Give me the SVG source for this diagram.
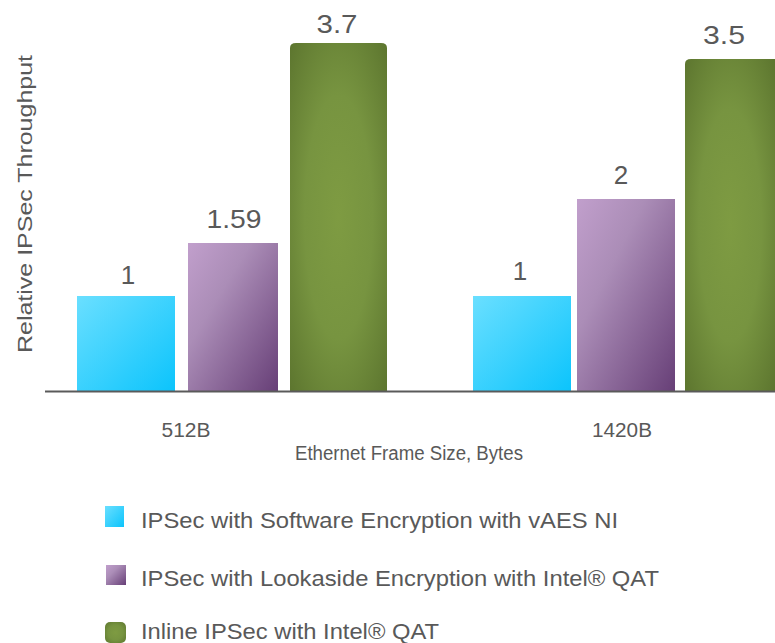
<svg xmlns="http://www.w3.org/2000/svg" width="775" height="643" viewBox="0 0 775 643">
  <defs>
    <linearGradient id="gCyan" x1="0" y1="0" x2="1" y2="1">
      <stop offset="0" stop-color="#6adfff"/>
      <stop offset="1" stop-color="#0cc4fc"/>
    </linearGradient>
    <linearGradient id="gPurple" x1="0" y1="0" x2="1" y2="1">
      <stop offset="0" stop-color="#c19fcc"/>
      <stop offset="0.35" stop-color="#ab8db7"/>
      <stop offset="1" stop-color="#673f77"/>
    </linearGradient>
    <radialGradient id="gGreen" cx="0.5" cy="0.5" r="0.7">
      <stop offset="0" stop-color="#7e9b42"/>
      <stop offset="0.5" stop-color="#779440"/>
      <stop offset="1" stop-color="#5d762f"/>
    </radialGradient>
    <style>
      text { font-family: "Liberation Sans", Arial, sans-serif; fill: #595959; }
      .val { font-size: 26px; text-anchor: middle; }
      .cat { font-size: 20px; text-anchor: middle; }
      .leg { font-size: 22px; }
    </style>
  </defs>

  <!-- bars with value labels -->
  <g id="bars">
    <g id="bar-512-sw">
      <rect x="77" y="296" width="98" height="95" fill="url(#gCyan)"/>
      <text class="val" x="128" y="284">1</text>
    </g>
    <g id="bar-512-la">
      <rect x="188" y="243" width="90" height="148" fill="url(#gPurple)"/>
      <text class="val" x="234" y="228" textLength="55" lengthAdjust="spacingAndGlyphs">1.59</text>
    </g>
    <g id="bar-512-inline">
      <path d="M290,391 V48 Q290,43 296,43 H381 Q387,43 387,48 V391 Z" fill="url(#gGreen)"/>
      <text class="val" x="337" y="33" textLength="41" lengthAdjust="spacingAndGlyphs">3.7</text>
    </g>
    <g id="bar-1420-sw">
      <rect x="473" y="296" width="98" height="95" fill="url(#gCyan)"/>
      <text class="val" x="520" y="280">1</text>
    </g>
    <g id="bar-1420-la">
      <rect x="577" y="199" width="98" height="192" fill="url(#gPurple)"/>
      <text class="val" x="621" y="184">2</text>
    </g>
    <g id="bar-1420-inline">
      <path d="M685,391 V64 Q685,59 691,59 H775 V391 Z" fill="url(#gGreen)"/>
      <text class="val" x="724" y="44" textLength="42" lengthAdjust="spacingAndGlyphs">3.5</text>
    </g>
  </g>

  <!-- axes and titles -->
  <g id="axes">
    <line x1="45" y1="391.5" x2="775" y2="391.5" stroke="#5a5a5a" stroke-width="2"/>
    <text class="cat" x="186" y="437" textLength="49" lengthAdjust="spacingAndGlyphs">512B</text>
    <text class="cat" x="622" y="437" textLength="60" lengthAdjust="spacingAndGlyphs">1420B</text>
    <text class="cat" x="409" y="460" font-size="16" textLength="228" lengthAdjust="spacingAndGlyphs">Ethernet Frame Size, Bytes</text>
    <text x="0" y="0" font-size="21" text-anchor="middle" transform="translate(32,204) rotate(-90)" textLength="298" lengthAdjust="spacingAndGlyphs">Relative IPSec Throughput</text>
  </g>

  <!-- legend -->
  <g id="legend">
    <g id="legend-sw">
      <rect x="105" y="506" width="19" height="21" fill="url(#gCyan)"/>
      <text class="leg" x="141" y="528" textLength="477" lengthAdjust="spacingAndGlyphs">IPSec with Software Encryption with vAES NI</text>
    </g>
    <g id="legend-la">
      <rect x="106" y="565" width="20" height="20" fill="url(#gPurple)"/>
      <text class="leg" x="141" y="586" textLength="518" lengthAdjust="spacingAndGlyphs">IPSec with Lookaside Encryption with Intel® QAT</text>
    </g>
    <g id="legend-inline">
      <rect x="105" y="622" width="21" height="21" rx="5" fill="url(#gGreen)"/>
      <text class="leg" x="141" y="639" textLength="298" lengthAdjust="spacingAndGlyphs">Inline IPSec with Intel® QAT</text>
    </g>
  </g>
</svg>
